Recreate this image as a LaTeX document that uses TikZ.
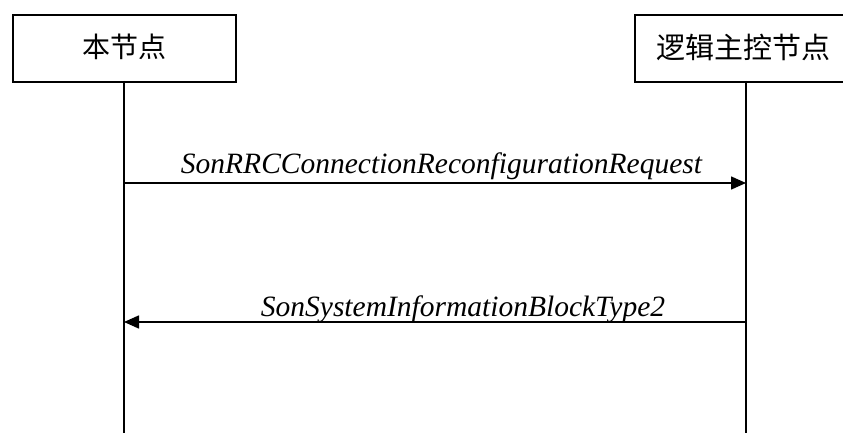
\documentclass[tikz,border=0pt]{standalone}
\usepackage{fontspec}
\setmainfont{Liberation Serif}
\newfontfamily\cjk{Noto Sans CJK SC}
\usetikzlibrary{arrows.meta}
\begin{document}
\begin{tikzpicture}[x=1pt,y=-1pt,
  actorbox/.style={draw,line width=1.8pt,inner sep=0pt,anchor=north west},
  lifeline/.style={line width=1.6pt},
  msg/.style={line width=1.6pt,-{Triangle[length=15pt,width=13pt]}},
  msglabel/.style={font=\fontsize{29.5}{32}\selectfont\itshape,inner sep=0pt}]
\useasboundingbox (0,0) rectangle (843,433);
\clip (0,0) rectangle (843,433);
\node[actorbox,minimum width=223pt,minimum height=67pt] (boxA) at (12,14) {};
\node[font=\cjk\fontsize{28}{30}\selectfont] (tA) at (124,47) {本节点};
\node[actorbox,minimum width=230pt,minimum height=67pt] (boxB) at (634,14) {};
\node[font=\cjk\fontsize{29}{30}\selectfont,anchor=west,inner sep=0pt] (tB) at (656,47) {逻辑主控节点};
\coordinate (la) at (124,81);
\coordinate (lb) at (746,81);
\coordinate (ea) at (124,433);
\coordinate (eb) at (746,433);
\draw[lifeline] (la) -- (ea);
\draw[lifeline] (lb) -- (eb);
\coordinate (m1a) at (124,183);
\coordinate (m1b) at (746,183);
\draw[msg] (m1a) -- (m1b);
\node[msglabel,anchor=base] (l1) at (441.5,173) {SonRRCConnectionReconfigurationRequest};
\coordinate (m2a) at (746,322);
\coordinate (m2b) at (124,322);
\draw[msg] (m2a) -- (m2b);
\node[msglabel,anchor=base] (l2) at (463,316) {SonSystemInformationBlockType2};
\end{tikzpicture}
\end{document}
